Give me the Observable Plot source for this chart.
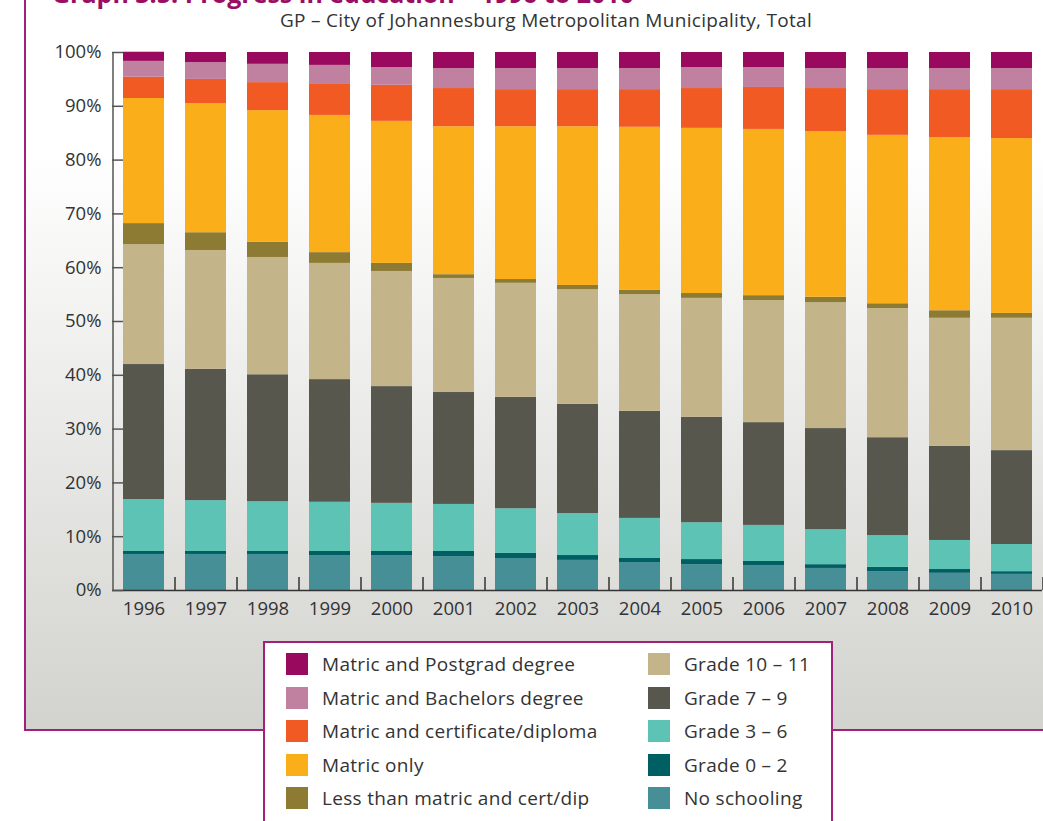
<!DOCTYPE html>
<html><head><meta charset="utf-8">
<script src="https://cdn.jsdelivr.net/npm/d3@7"></script>
<script src="https://cdn.jsdelivr.net/npm/@observablehq/plot@0.6"></script>
<style>
body{margin:0;width:1043px;height:821px;overflow:hidden;background:#fff;font-family:"Open Sans",sans-serif;position:relative;color:#333}
#frame{position:absolute;left:24px;top:-10px;width:1100px;height:741px;box-sizing:border-box;border-left:2px solid #a3207a;border-bottom:2px solid #a3207a;background:linear-gradient(to bottom,#ffffff 0px,#ffffff 160px,#d2d2ce 739px)}
#title{position:absolute;left:52px;top:-19px;font-weight:bold;font-size:25px;line-height:25px;color:#9b0d62;white-space:nowrap}
#subtitle{position:absolute;left:0;width:1092px;text-align:center;top:11px;font-size:19px;line-height:19px;letter-spacing:0.3px;color:#333;white-space:nowrap}
#chart{position:absolute;left:0;top:0}
#legend{position:absolute;left:263px;top:641px;width:570px;height:200px;box-sizing:border-box;border:2px solid #a3207a;background:#fff}
.item{position:absolute;height:22px;display:flex;align-items:center;font-size:19px;letter-spacing:0.3px;color:#333;white-space:nowrap}
.sw{width:22px;height:22px;margin-right:14px;flex:none}
</style></head>
<body>
<div id="frame"></div>
<div id="title">Graph 3.5: Progress in education – 1996 to 2010</div>
<div id="subtitle">GP – City of Johannesburg Metropolitan Municipality, Total</div>
<div id="chart"></div>
<div id="legend"></div>
<script>
const years = ["1996","1997","1998","1999","2000","2001","2002","2003","2004","2005","2006","2007","2008","2009","2010"];
// stacked bottom → top
const categories = ["No schooling","Grade 0 – 2","Grade 3 – 6","Grade 7 – 9","Grade 10 – 11","Less than matric and cert/dip","Matric only","Matric and certificate/diploma","Matric and Bachelors degree","Matric and Postgrad degree"];
const colors = ["#478f96","#005f63","#5dc3b5","#57574d","#c3b489","#8d7b33","#f9ae1a","#f15a22","#c081a0","#990a5e"];
const noSchooling = [6.7,6.7,6.7,6.5,6.5,6.3,5.95,5.6,5.2,4.8,4.65,4.1,3.5,3.2,3.0];
const grade0to2   = [0.55,0.55,0.55,0.75,0.75,0.95,0.95,0.9,0.75,0.95,0.75,0.7,0.8,0.7,0.5];
const grade3to6   = [9.65,9.45,9.25,9.15,8.95,8.75,8.3,7.8,7.45,6.85,6.7,6.5,5.9,5.4,5.05];
const grade7to9   = [25.1,24.4,23.6,22.8,21.7,20.8,20.7,20.3,19.9,19.6,19.1,18.8,18.2,17.5,17.45];
const grade10to11 = [22.3,22.1,21.8,21.6,21.4,21.2,21.2,21.3,21.7,22.1,22.7,23.4,24.0,23.8,24.6];
const lessThanMatric = [3.9,3.3,2.8,2.0,1.5,0.7,0.7,0.8,0.8,0.9,0.9,1.0,0.9,1.4,0.9];
const matricOnly  = [23.25,24.0,24.5,25.5,26.4,27.5,28.4,29.5,30.3,30.7,30.9,30.8,31.3,32.2,32.5];
const matricCert  = [3.95,4.5,5.2,5.9,6.7,7.1,6.9,6.9,7.0,7.4,7.8,8.0,8.5,8.9,9.1];
const matricBach  = [2.95,3.1,3.4,3.4,3.3,3.7,3.9,3.9,3.9,3.9,3.7,3.7,3.9,3.9,3.9];
const matricPostgrad = [1.7,1.9,2.2,2.4,2.8,3.0,3.0,3.0,3.0,2.8,2.8,3.0,3.0,3.0,3.0];
const yTicks = [0,10,20,30,40,50,60,70,80,90,100];
const legendLeftCol = ["Matric and Postgrad degree","Matric and Bachelors degree","Matric and certificate/diploma","Matric only","Less than matric and cert/dip"];
const legendRightCol = ["Grade 10 – 11","Grade 7 – 9","Grade 3 – 6","Grade 0 – 2","No schooling"];

const series = [noSchooling,grade0to2,grade3to6,grade7to9,grade10to11,lessThanMatric,matricOnly,matricCert,matricBach,matricPostgrad];
const data = [];
categories.forEach((c, ci) => years.forEach((y, yi) => data.push({year: y, cat: c, value: series[ci][yi]})));

const font = {fontSize: 18.5, fill: "#333"};
const chart = Plot.plot({
  width: 1043, height: 625,
  marginTop: 52, marginBottom: 35, marginLeft: 112, marginRight: 1,
  style: {fontFamily: "'Open Sans', sans-serif", background: "transparent", color: "#333"},
  x: {type: "band", domain: years, paddingInner: 0.34, paddingOuter: 0.17, label: null},
  y: {domain: [0, 100], label: null},
  color: {domain: categories, range: colors},
  marks: [
    Plot.barY(data, {x: "year", y: "value", fill: "cat", order: categories}),
    Plot.ruleY([0], {stroke: "#333", strokeWidth: 1.5}),
    Plot.ruleX([years[0]], {dx: -31, stroke: "#555", strokeWidth: 1.5}),
    Plot.axisY({ticks: yTicks, tickFormat: d => d + "%", tickSize: -11, tickPadding: 22, stroke: "#555", strokeWidth: 1.5, label: null, ...font}),
    Plot.axisX({tickSize: -13, dx: 31, tickFormat: () => "", stroke: "#333", strokeWidth: 1.5, label: null}),
    Plot.axisX({tickSize: 0, tickPadding: 11, label: null, ...font})
  ]
});
document.getElementById("chart").appendChild(chart);

const legend = document.getElementById("legend");
const colorOf = c => colors[categories.indexOf(c)];
function addItem(name, left, row) {
  const d = document.createElement("div");
  d.className = "item";
  d.style.left = left + "px";
  d.style.top = (10 + row * 33.5) + "px";
  d.innerHTML = `<span class="sw" style="background:${colorOf(name)}"></span><span>${name}</span>`;
  legend.appendChild(d);
}
legendLeftCol.forEach((n, i) => addItem(n, 21, i));
legendRightCol.forEach((n, i) => addItem(n, 383, i));
</script>
</body></html>
